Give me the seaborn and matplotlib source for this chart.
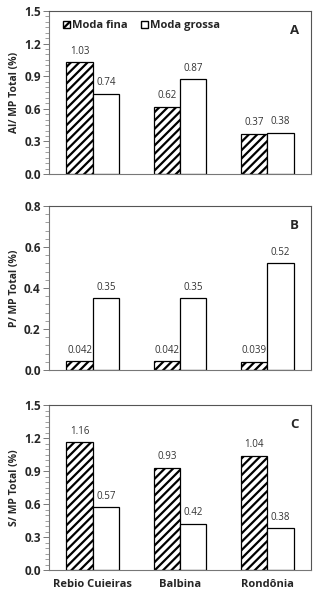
import matplotlib
matplotlib.use("Agg")
import matplotlib.pyplot as plt
import seaborn as sns
import pandas as pd
import numpy as np
from matplotlib.patches import Patch
from matplotlib.ticker import MultipleLocator

sns.set_style("white")
plt.rcParams['font.family'] = ['Open Sans', 'DejaVu Sans']
plt.rcParams['hatch.linewidth'] = 1.6

sites = ["Rebio Cuieiras", "Balbina", "Rondônia"]
modes = ["Moda fina", "Moda grossa"]
al_fina = [1.03, 0.62, 0.37]
al_grossa = [0.74, 0.87, 0.38]
p_fina = [0.042, 0.042, 0.039]
p_grossa = [0.35, 0.35, 0.52]
s_fina = [1.16, 0.93, 1.04]
s_grossa = [0.57, 0.42, 0.38]
al_labels = ["1.03", "0.74", "0.62", "0.87", "0.37", "0.38"]
p_labels = ["0.042", "0.35", "0.042", "0.35", "0.039", "0.52"]
s_labels = ["1.16", "0.57", "0.93", "0.42", "1.04", "0.38"]

panels = [
    ("A", "Al/ MP Total (%)", al_fina, al_grossa, al_labels, 1.5, 0.3, 0.05),
    ("B", "P/ MP Total (%)", p_fina, p_grossa, p_labels, 0.8, 0.2, 0.04),
    ("C", "S/ MP Total (%)", s_fina, s_grossa, s_labels, 1.5, 0.3, 0.05),
]

fig = plt.figure(figsize=(3.18, 5.93), dpi=100)
W, H = 318, 593
boxes = [(49, 11, 311, 174), (49, 206, 311, 370), (49, 405, 311, 570)]

for (letter, ylab, fina, grossa, labels, ymax, major, minor), (x0, y0, x1, y1) in zip(panels, boxes):
    ax = fig.add_axes([x0 / W, 1 - y1 / H, (x1 - x0) / W, (y1 - y0) / H])
    df = pd.DataFrame({
        "site": sites * 2,
        "mode": [modes[0]] * 3 + [modes[1]] * 3,
        "value": list(fina) + list(grossa),
    })
    sns.barplot(data=df, x="site", y="value", hue="mode", order=sites, hue_order=modes,
                palette=["white", "white"], edgecolor="black", linewidth=0.9,
                width=0.6, ax=ax, legend=False, errorbar=None, saturation=1)
    conts = ax.containers
    for bar in conts[0]:
        bar.set_hatch("////")
    for i in range(3):
        for j, cont in enumerate(conts):
            bar = cont[i]
            lab = labels[2 * i + j]
            ax.annotate(lab, (bar.get_x() + bar.get_width() / 2, bar.get_height()),
                        xytext=(0, 4), textcoords="offset points", ha="center", va="bottom",
                        fontsize=7, color="#333333")
    ax.set_xlim(-0.5, 2.5)
    ax.set_ylim(0, ymax)
    ax.yaxis.set_major_locator(MultipleLocator(major))
    ax.yaxis.set_minor_locator(MultipleLocator(minor))
    ax.yaxis.set_major_formatter(matplotlib.ticker.FormatStrFormatter("%.1f"))
    ax.tick_params(axis="y", which="major", left=True, length=4, width=0.7, direction="out",
                   labelsize=8.5, pad=2, color="#777777")
    ax.tick_params(axis="y", which="minor", left=True, length=3, width=0.5, direction="out",
                   color="#777777")
    ax.tick_params(axis="x", bottom=False, labelsize=8, pad=3)
    for t in ax.get_yticklabels():
        t.set_fontweight("bold")
    if letter == "C":
        for t in ax.get_xticklabels():
            t.set_fontweight("bold")
    else:
        ax.set_xticklabels([])
    ax.set_xlabel("")
    ax.set_ylabel(ylab, fontsize=7.5, fontweight="bold", labelpad=3)
    for sp in ["top", "right"]:
        ax.spines[sp].set_color("#555555")
        ax.spines[sp].set_linewidth(0.8)
    for sp in ["left", "bottom"]:
        ax.spines[sp].set_color("#777777")
        ax.spines[sp].set_linewidth(0.8)
    ax.text(0.955, 0.88, letter, transform=ax.transAxes, ha="right", va="center",
            fontsize=9.5, fontweight="bold")
    if letter == "A":
        handles = [Patch(facecolor="white", edgecolor="black", hatch="////", label=modes[0]),
                   Patch(facecolor="white", edgecolor="black", label=modes[1])]
        ax.legend(handles=handles, loc="center left", bbox_to_anchor=(0.055, 0.91), ncol=2,
                  frameon=False, prop={"weight": "bold", "size": 8},
                  handlelength=0.6, handleheight=0.6, handletextpad=0.2, columnspacing=1.2,
                  borderaxespad=0.0, borderpad=0.0)

fig.savefig("out.png", dpi=100, facecolor="white")
